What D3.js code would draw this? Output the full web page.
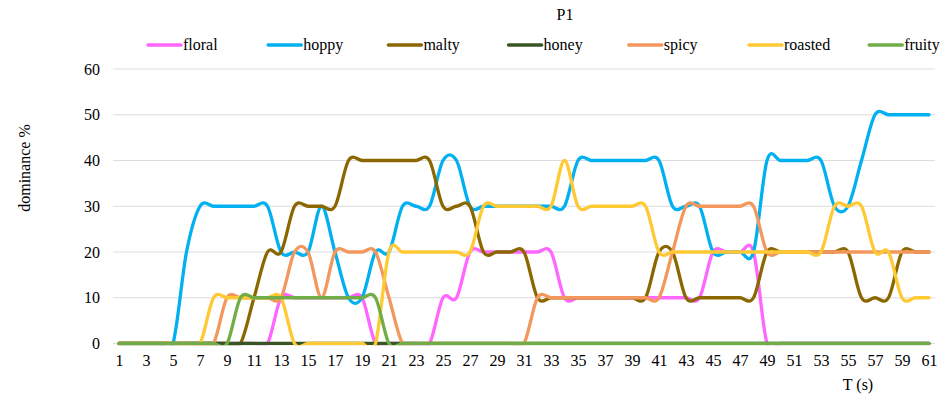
<!DOCTYPE html>
<html>
<head>
<meta charset="utf-8">
<script src="https://cdn.jsdelivr.net/npm/d3@7/dist/d3.min.js"></script>
<style>
  body { margin: 0; background: #ffffff; }
</style>
</head>
<body>
<svg id="chart" width="942" height="398"></svg>
<script>
// time points (s)
const times = [1, 2, 3, 4, 5, 6, 7, 8, 9, 10, 11, 12, 13, 14, 15, 16, 17, 18, 19, 20,
  21, 22, 23, 24, 25, 26, 27, 28, 29, 30, 31, 32, 33, 34, 35, 36, 37, 38, 39, 40,
  41, 42, 43, 44, 45, 46, 47, 48, 49, 50, 51, 52, 53, 54, 55, 56, 57, 58, 59, 60, 61];

const floral = [0, 0, 0, 0, 0, 0, 0, 0, 0, 0, 0, 0, 10, 10, 10, 10, 10, 10, 10, 0,
  0, 0, 0, 0, 10, 10, 20, 20, 20, 20, 20, 20, 20, 10, 10, 10, 10, 10, 10, 10,
  10, 10, 10, 10, 20, 20, 20, 20, 0, 0, 0, 0, 0, 0, 0, 0, 0, 0, 0, 0, 0];
const hoppy = [0, 0, 0, 0, 0, 20, 30, 30, 30, 30, 30, 30, 20, 20, 20, 30, 20, 10, 10, 20,
  20, 30, 30, 30, 40, 40, 30, 30, 30, 30, 30, 30, 30, 30, 40, 40, 40, 40, 40, 40,
  40, 30, 30, 30, 20, 20, 20, 20, 40, 40, 40, 40, 40, 30, 30, 40, 50, 50, 50, 50, 50];
const malty = [0, 0, 0, 0, 0, 0, 0, 0, 0, 0, 10, 20, 20, 30, 30, 30, 30, 40, 40, 40,
  40, 40, 40, 40, 30, 30, 30, 20, 20, 20, 20, 10, 10, 10, 10, 10, 10, 10, 10, 10,
  20, 20, 10, 10, 10, 10, 10, 10, 20, 20, 20, 20, 20, 20, 20, 10, 10, 10, 20, 20, 20];
const honey = [0, 0, 0, 0, 0, 0, 0, 0, 0, 0, 0, 0, 0, 0, 0, 0, 0, 0, 0, 0,
  0, 0, 0, 0, 0, 0, 0, 0, 0, 0, 0, 0, 0, 0, 0, 0, 0, 0, 0, 0,
  0, 0, 0, 0, 0, 0, 0, 0, 0, 0, 0, 0, 0, 0, 0, 0, 0, 0, 0, 0, 0];
const spicy = [0, 0, 0, 0, 0, 0, 0, 0, 10, 10, 10, 10, 10, 20, 20, 10, 20, 20, 20, 20,
  10, 0, 0, 0, 0, 0, 0, 0, 0, 0, 0, 10, 10, 10, 10, 10, 10, 10, 10, 10,
  10, 20, 30, 30, 30, 30, 30, 30, 20, 20, 20, 20, 20, 20, 20, 20, 20, 20, 20, 20, 20];
const roasted = [0, 0, 0, 0, 0, 0, 0, 10, 10, 10, 10, 10, 10, 0, 0, 0, 0, 0, 0, 0,
  20, 20, 20, 20, 20, 20, 20, 30, 30, 30, 30, 30, 30, 40, 30, 30, 30, 30, 30, 30,
  20, 20, 20, 20, 20, 20, 20, 20, 20, 20, 20, 20, 20, 30, 30, 30, 20, 20, 10, 10, 10];
const fruity = [0, 0, 0, 0, 0, 0, 0, 0, 0, 10, 10, 10, 10, 10, 10, 10, 10, 10, 10, 10,
  0, 0, 0, 0, 0, 0, 0, 0, 0, 0, 0, 0, 0, 0, 0, 0, 0, 0, 0, 0,
  0, 0, 0, 0, 0, 0, 0, 0, 0, 0, 0, 0, 0, 0, 0, 0, 0, 0, 0, 0, 0];

const seriesNames = ["floral", "hoppy", "malty", "honey", "spicy", "roasted", "fruity"];
const seriesValues = [floral, hoppy, malty, honey, spicy, roasted, fruity];
const seriesColors = ["#ff66ff", "#00b0f0", "#8b6700", "#375623", "#f4975c", "#ffc933", "#70ad47"];
const yTicks = [0, 10, 20, 30, 40, 50, 60];

const serif = "'Liberation Serif', 'Times New Roman', Times, 'DejaVu Serif', serif";
const svg = d3.select("#chart").style("font-family", serif);

// scales
const x = d3.scaleLinear().domain([1, 61]).range([119, 929]);
const y = d3.scaleLinear().domain([0, 60]).range([343.5, 69]);

// clip like the plot area (Excel cuts the smoothed lines below 0)
svg.append("clipPath")
  .attr("id", "plotClip")
  .append("rect")
  .attr("x", 100)
  .attr("y", 50)
  .attr("width", 842)
  .attr("height", y(0) + 1.7 - 50);

// horizontal gridlines
svg.append("g")
  .selectAll("line")
  .data(yTicks)
  .join("line")
  .attr("x1", 113)
  .attr("x2", 935)
  .attr("y1", d => y(d))
  .attr("y2", d => y(d))
  .attr("stroke", "#dedbe0")
  .attr("stroke-width", 1.2);

// y axis labels
const yAxis = svg.append("g")
  .attr("transform", "translate(100,0)")
  .call(d3.axisLeft(y).tickValues(yTicks).tickSize(0).tickPadding(0));
yAxis.attr("font-family", null).attr("font-size", null);
yAxis.select(".domain").remove();
yAxis.selectAll("text")
  .style("font-family", serif)
  .style("font-size", "16px");

// x axis labels (odd seconds)
const xAxis = svg.append("g")
  .attr("transform", "translate(0,355)")
  .call(d3.axisBottom(x).tickValues(times.filter(t => t % 2 === 1)).tickFormat(d3.format("d")).tickSize(0).tickPadding(0));
xAxis.attr("font-family", null).attr("font-size", null);
xAxis.select(".domain").remove();
xAxis.selectAll("text")
  .attr("dy", "0.71em")
  .style("font-family", serif)
  .style("font-size", "16px");

// lines
const line = d3.line()
  .x((d, i) => x(times[i]))
  .y(d => y(d))
  .curve(d3.curveCatmullRom.alpha(0));

svg.append("g")
  .attr("clip-path", "url(#plotClip)")
  .selectAll("path")
  .data(seriesValues)
  .join("path")
  .attr("d", d => line(d))
  .attr("fill", "none")
  .attr("stroke", (d, i) => seriesColors[i])
  .attr("stroke-width", 3.3)
  .attr("stroke-linejoin", "round")
  .attr("stroke-linecap", "round");

// title
svg.append("text")
  .attr("x", 565)
  .attr("y", 20)
  .attr("text-anchor", "middle")
  .style("font-family", serif)
  .style("font-size", "16px")
  .text("P1");

// legend
const legend = svg.append("g")
  .selectAll("g")
  .data(seriesNames)
  .join("g")
  .attr("transform", (d, i) => `translate(${148 + i * 120.2},45)`);
legend.append("line")
  .attr("x1", 0)
  .attr("x2", 33)
  .attr("stroke", (d, i) => seriesColors[i])
  .attr("stroke-width", 3.5)
  .attr("stroke-linecap", "round");
legend.append("text")
  .attr("x", 35)
  .attr("y", 5)
  .style("font-family", serif)
  .style("font-size", "16px")
  .text(d => d);

// axis titles
svg.append("text")
  .attr("transform", "translate(30,168) rotate(-90)")
  .attr("text-anchor", "middle")
  .style("font-family", serif)
  .style("font-size", "16px")
  .text("dominance %");

svg.append("text")
  .attr("x", 858)
  .attr("y", 390)
  .attr("text-anchor", "middle")
  .style("font-family", serif)
  .style("font-size", "16px")
  .text("T (s)");
</script>
</body>
</html>
